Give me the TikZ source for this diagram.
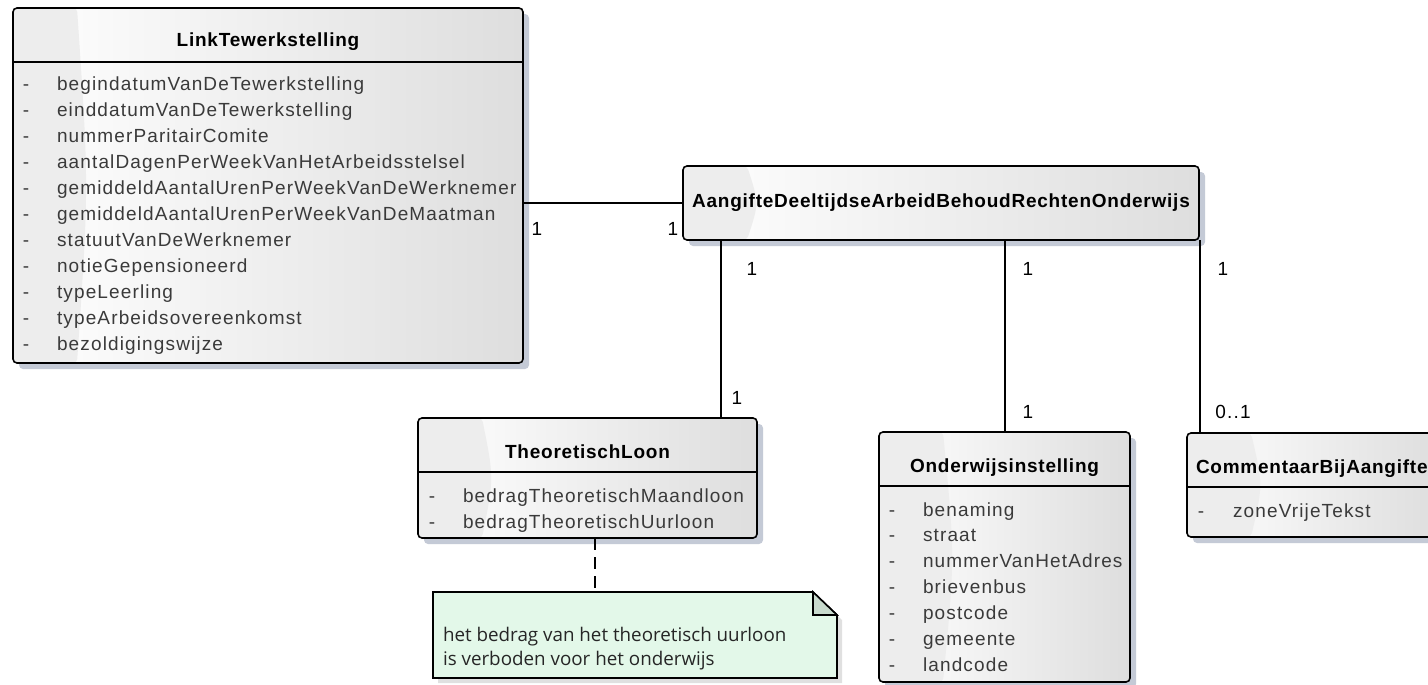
\documentclass[tikz,border=0pt]{standalone}
\usepackage{fontspec}
\usetikzlibrary{calc,shadows}
\newfontfamily\umlfont[LetterSpace=6,BoldFeatures={LetterSpace=4}]{Liberation Sans}
\newfontfamily\notefont{Open Sans}
\definecolor{shadowc}{RGB}{196,202,214}
\definecolor{notefill}{RGB}{227,248,233}
\definecolor{foldfill}{RGB}{200,218,205}
\definecolor{attrc}{RGB}{58,58,58}
\pgfdeclarehorizontalshading{umlshade}{100bp}{color(0bp)=(white); color(25bp)=(white); color(75bp)=(black!13); color(100bp)=(black!13)}
\begin{document}
\begin{tikzpicture}[x=1pt,y=-1pt,
  every node/.style={inner sep=0pt, outer sep=0pt},
  cls/.style={draw=black, line width=1.6pt, rounded corners=4pt, anchor=north west, shade, shading=umlshade,
    drop shadow={shadow xshift=6pt, shadow yshift=-6pt, fill=shadowc, opacity=1},
    path picture={\fill[black!7] (path picture bounding box.north west) -- ($(path picture bounding box.north west)+(64,0)$) .. controls ($(path picture bounding box.west)+(76,0)$) .. ($(path picture bounding box.south west)+(64,0)$) -- (path picture bounding box.south west) -- cycle;}},
  sep/.style={line width=1.6pt},
  conn/.style={line width=1.7pt},
  notelink/.style={line width=1.7pt, dash pattern=on 12pt off 7pt},
  ttl/.style={font=\umlfont\bfseries\fontsize{19}{23}\selectfont, anchor=base},
  attr/.style={font=\umlfont\fontsize{19}{23}\selectfont, text=attrc, anchor=base west},
  dsh/.style={font=\umlfont\fontsize{19}{23}\selectfont, text=attrc, anchor=base},
  mult/.style={font=\umlfont\fontsize{19}{23}\selectfont, anchor=base},
  notetxt/.style={font=\notefont\fontsize{18.8}{22}\selectfont, text=black!85, anchor=base west}]
\useasboundingbox (0,0) rectangle (1428,685);
\fill[white] (0,0) rectangle (1428,685);
\clip (0,0) rectangle (1428,685);

% ---------- LinkTewerkstelling
\node[cls, minimum width=510pt, minimum height=355pt] (link) at (13,8) {};
\draw[sep] ($(link.north west)+(0,54)$) -- ($(link.north east)+(0,54)$);
\node[ttl] (linkt) at (268,47) {LinkTewerkstelling};
\foreach \t [count=\i] in {begindatumVanDeTewerkstelling,einddatumVanDeTewerkstelling,nummerParitairComite,aantalDagenPerWeekVanHetArbeidsstelsel,gemiddeldAantalUrenPerWeekVanDeWerknemer,gemiddeldAantalUrenPerWeekVanDeMaatman,statuutVanDeWerknemer,notieGepensioneerd,typeLeerling,typeArbeidsovereenkomst,bezoldigingswijze}{
  \node[dsh] (linkd\i) at (26,{91+25.9*(\i-1)}) {-};
  \node[attr] (linka\i) at (57,{91+25.9*(\i-1)}) {\t};
}

% ---------- AangifteDeeltijdseArbeidBehoudRechtenOnderwijs
\node[cls, minimum width=516pt, minimum height=74pt] (aang) at (683,166) {};
\node[ttl] (aangt) at (941,207) {AangifteDeeltijdseArbeidBehoudRechtenOnderwijs};

% ---------- TheoretischLoon
\node[cls, minimum width=339pt, minimum height=120pt] (theo) at (418,418) {};
\draw[sep] ($(theo.north west)+(0,54)$) -- ($(theo.north east)+(0,54)$);
\node[ttl] (theot) at (587.5,458) {TheoretischLoon};
\foreach \t [count=\i] in {bedragTheoretischMaandloon,bedragTheoretischUurloon}{
  \node[dsh] (theod\i) at (432,{502+26*(\i-1)}) {-};
  \node[attr] (theoa\i) at (463,{502+26*(\i-1)}) {\t};
}

% ---------- Onderwijsinstelling
\node[cls, minimum width=251pt, minimum height=250pt] (onder) at (879,432) {};
\draw[sep] ($(onder.north west)+(0,54)$) -- ($(onder.north east)+(0,54)$);
\node[ttl] (ondert) at (1004.5,472) {Onderwijsinstelling};
\foreach \t [count=\i] in {benaming,straat,nummerVanHetAdres,brievenbus,postcode,gemeente,landcode}{
  \node[dsh] (onderd\i) at (892,{516+25.9*(\i-1)}) {-};
  \node[attr] (ondera\i) at (923,{516+25.9*(\i-1)}) {\t};
}

% ---------- CommentaarBijAangifte
\node[cls, minimum width=253pt, minimum height=104pt] (com) at (1187,433) {};
\draw[sep] ($(com.north west)+(0,54)$) -- ($(com.north east)+(0,54)$);
\node[ttl, anchor=base west] (comt) at (1196,473) {CommentaarBijAangifte};
\node[dsh] (comd1) at (1201,517) {-};
\node[attr] (coma1) at (1233,517) {zoneVrijeTekst};

% ---------- note
\node[anchor=north west, minimum width=404pt, minimum height=86pt] (note) at (433,592) {};
\fill[black!12] ($(note.north west)+(5,5)$) -- ($(note.north east)+(-19,5)$) -- ($(note.north east)+(5,28)$) -- ($(note.south east)+(5,5)$) -- ($(note.south west)+(5,5)$) -- cycle;
\draw[line width=1.6pt, fill=notefill] (note.north west) -- ($(note.north east)+(-24,0)$) -- ($(note.north east)+(0,23)$) -- (note.south east) -- (note.south west) -- cycle;
\draw[line width=1.6pt, fill=foldfill, line join=miter] ($(note.north east)+(-24,0)$) -- ($(note.north east)+(-24,23)$) -- ($(note.north east)+(0,23)$) -- cycle;
\node[notetxt] (notel1) at (443,641) {het bedrag van het theoretisch uurloon};
\node[notetxt] (notel2) at (443,665) {is verboden voor het onderwijs};

% ---------- connectors
\draw[conn] (link.east |- aang.west) -- (aang.west);
\draw[conn] (aang.south -| 721,0) -- (theo.north -| 721,0);
\draw[conn] (aang.south -| 1005,0) -- (onder.north -| 1005,0);
\draw[conn] ([xshift=1pt]aang.south east) -- ([xshift=1pt]aang.south east |- com.north);
\draw[notelink] (theo.south -| 595,0) -- (note.north -| 595,0);

% ---------- multiplicities
\node[mult] (m1) at (537,235) {1};
\node[mult] (m2) at (673,235) {1};
\node[mult] (m3) at (752,275) {1};
\node[mult] (m4) at (1028,275) {1};
\node[mult] (m5) at (1223,275) {1};
\node[mult] (m6) at (737,404) {1};
\node[mult] (m7) at (1028,418) {1};
\node[mult] (m8) at (1233,418) {0..1};
\end{tikzpicture}
\end{document}
